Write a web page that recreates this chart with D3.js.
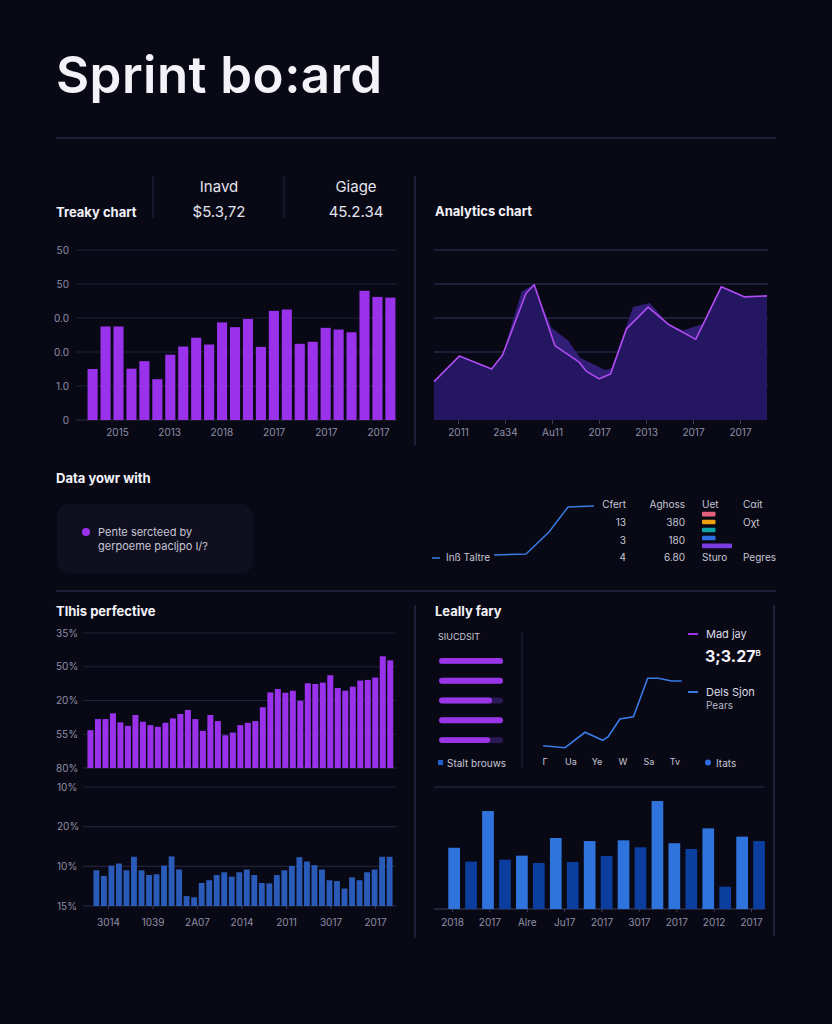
<!DOCTYPE html>
<html><head><meta charset="utf-8">
<script src="https://cdn.jsdelivr.net/npm/d3@7"></script>
<style>
html,body{margin:0;padding:0;background:#090915;}
svg{display:block;}
</style></head><body>
<script>
// ---------------- DATA ----------------
const headerLabels = ["Inavd", "Giage"];
const headerValues = ["$5.3,72", "45.2.34"];

// Treaky chart (top-left bars)
const weeklyValues = [15.0,27.5,27.5,15.1,17.3,12.0,19.2,21.6,24.2,22.2,28.7,27.3,29.7,21.5,32.1,32.5,22.4,23.0,27.1,26.6,25.8,38.0,36.2,36.0];
const weeklyYTicks = ["0","1.0","0.0","0.0","50","50"];
const weeklyXLabels = ["2015","2013","2018","2017","2017","2017"];

// Analytics chart (top-right area)
const analyticsT = [0,7.6,17.3,20.6,27.6,30.1,36.3,43.6,45.8,49.6,53,57.8,64.3,70.6,78.6,86.3,93.3,100];
const analyticsMain = [11.3,18.8,15.0,19.1,37.2,39.8,21.9,17.0,14.3,12.1,13.5,26.8,33.2,28.0,23.7,39.2,36.2,36.5];
const analyticsShadowT = [0,7.6,17.3,20.6,26.3,29.8,35.3,40.3,43.8,51.3,53.3,59.8,64.8,70.6,74.8,80.8,86.3,93.3,100];
const analyticsShadow = [11.3,18.8,15.0,19.1,37.7,39.8,27.1,23.4,18.4,14.7,15.2,33.2,34.4,28.0,26.3,28.3,39.2,36.2,36.5];
const analyticsXLabels = ["2011","2a34","Au11","2017","2013","2017","2017"];

// Data yowr with
const noteLines = ["Pente sercteed by","gerpoeme pacljpo I/?"];
const trendT = [0,1.28,2.2,2.96,4];
const trendV = [8.3,10,46.7,88.3,90];
const trendLegend = "Inß Taltre";
const tableHeaders = ["Cfert","Aghoss","Uet","Cαit"];
const tableColA = ["13","3","4"];
const tableColB = ["380","180","6.80"];
const tableColC = ["","","Sturo"];
const tableColD = ["Oχt","","Pegres"];
const swatchShares = [45,45,45,45,100];
const swatchColors = ["#e8607c","#f0a010","#12a4a8","#2f6ee0","#7b3ce0"];

// Tlhis perfective (purple bars)
const perfValues = [11.2,14.5,14.5,16.2,13.5,12.5,15.7,13.7,12.7,12.2,13.4,14.7,16.0,17.2,14.5,11.0,15.7,13.9,9.7,10.5,12.7,13.4,13.9,18.0,22.4,23.4,22.3,22.9,19.9,25.1,24.9,25.3,27.5,23.7,22.9,24.1,25.9,26.1,26.8,33.1,31.9];
const perfTicks = ["80%","55%","20%","50%","35%"];

// blue bars below
const shareValues = [9.0,7.6,10.2,10.7,9.0,12.4,9.0,7.8,8.0,10.2,12.5,9.2,2.5,2.2,5.8,6.5,7.8,8.5,7.4,8.5,9.2,7.8,5.8,5.7,7.8,9.0,10.1,12.3,11.2,10.3,9.2,6.5,6.3,4.4,7.2,6.5,8.5,9.2,12.4,12.4];
const shareTicks = ["15%","10%","20%","10%"];
const shareXLabels = ["3014","1039","2A07","2014","2011","3017","2017"];

// Leally fary
const progressValues = [100,100,83,100,80];
const lineT = [-0.07,0.77,1.54,2.22,2.43,2.88,3.4,3.95,4.36,4.87,5.26];
const lineV = [14.3,12.3,27.7,19.7,23.3,41,43.3,81.7,81.7,79,79];
const lineXLabels = ["Γ","Ua","Ye","W","Sa","Tv"];
const groupValues = [50.2,38.8,80.3,40.4,43.7,37.7,58.2,38.5,55.7,43.4,56.3,50.6,88.5,53.9,49.2,66.1,18.3,59.3,55.7];
const groupTone = [0,1,0,1,0,1,0,1,0,1,0,1,0,0,1,0,1,0,1];
const groupXLabels = ["2018","2017","Alre","Ju17","2017","3017","2017","2012","2017"];

// ---------------- STYLE ----------------
const FONT = "Inter, 'Noto Sans', 'DejaVu Sans', sans-serif";
const BG = "#090915", GRID = "#21213a", AXIS = "#2c2c4a", TICK = "#8f8fa8",
      WHITE = "#f2f2f8", SOFT = "#c6c6d4", PURPLE = "#9a32ec", BLUE = "#2a5bb8";

const svg = d3.select("body").append("svg").attr("width",832).attr("height",1024)
  .style("font-family", FONT);
svg.append("rect").attr("width",832).attr("height",1024).attr("fill",BG);

function text(x,y,t,o={}){
  return svg.append("text").attr("x",x).attr("y",y).text(t)
    .attr("fill",o.fill||WHITE).attr("font-size",o.size||10)
    .attr("font-weight",o.weight||400).attr("text-anchor",o.anchor||"start");
}
function line(x1,y1,x2,y2,c,w){
  return svg.append("line").attr("x1",x1).attr("y1",y1).attr("x2",x2).attr("y2",y2)
    .attr("stroke",c).attr("stroke-width",w||1);
}
function styleAxis(ax){
  ax.attr("font-family",FONT).attr("font-size",10);
  ax.select(".domain").remove();
  ax.selectAll("text").attr("fill",TICK);
  ax.selectAll(".tick line").attr("stroke","#3a3a58");
}

// ---------------- TITLE / HEADER ----------------
text(56,93,"Sprint bo:ard",{size:51,weight:600})
  .attr("textLength",326).attr("lengthAdjust","spacing");
line(56,138,776,138,"#26264a",1.5);

line(153,176,153,218,"#262642",1);
line(284,176,284,218,"#262642",1);
line(415,176,415,445,"#262642",1.5);
text(56,217,"Treaky chart",{size:13,weight:700});
const hx = d3.scalePoint().domain(headerLabels).range([219,356]);
headerLabels.forEach((h,i)=>{
  text(hx(h),192,h,{size:15,anchor:"middle",fill:"#e4e4ee"});
  text(hx(h),217,headerValues[i],{size:15,anchor:"middle",fill:"#e4e4ee"});
});
text(435,216,"Analytics chart",{size:13,weight:700});

// ---------------- TREAKY CHART ----------------
{
  const x = d3.scaleBand().domain(weeklyValues.map((_,i)=>i)).range([86,397]).paddingInner(0.22).paddingOuter(0.12);
  const y = d3.scaleLinear().domain([0,50]).range([420,250]);
  const g = svg.append("g");
  g.selectAll("line.grid").data(y.ticks(5)).join("line").attr("class","grid")
    .attr("x1",76).attr("x2",397).attr("y1",d=>y(d)).attr("y2",d=>y(d))
    .attr("stroke",d=>d===0?AXIS:GRID).attr("stroke-width",1.2);
  g.selectAll("text.yl").data(y.ticks(5)).join("text").attr("class","yl")
    .attr("x",69).attr("y",d=>y(d)).attr("dy","0.35em").attr("text-anchor","end")
    .attr("fill",TICK).attr("font-size",10).text((d,i)=>weeklyYTicks[i]);
  g.selectAll("rect").data(weeklyValues).join("rect")
    .attr("x",(d,i)=>x(i)).attr("y",d=>y(d)).attr("width",x.bandwidth())
    .attr("height",d=>y(0)-y(d)).attr("fill",PURPLE);
  const xl = d3.scalePoint().domain(weeklyXLabels.map((_,i)=>i)).range([117,378]);
  const ax = svg.append("g").attr("transform","translate(0,420)")
    .call(d3.axisBottom(xl).tickSize(0).tickPadding(9).tickFormat(i=>weeklyXLabels[i]));
  styleAxis(ax);
}

// ---------------- ANALYTICS CHART ----------------
{
  const x = d3.scaleLinear().domain([0,100]).range([434,767]);
  const y = d3.scaleLinear().domain([0,50]).range([420,250]);
  const g = svg.append("g");
  g.selectAll("line").data(y.ticks(5).filter(d=>d>0)).join("line")
    .attr("x1",434).attr("x2",768).attr("y1",d=>y(d)).attr("y2",d=>y(d))
    .attr("stroke","#262645").attr("stroke-width",1.5);
  const shadow = analyticsShadowT.map((t,i)=>[t,analyticsShadow[i]]);
  const main = analyticsT.map((t,i)=>[t,analyticsMain[i]]);
  const area = d3.area().x(d=>x(d[0])).y0(y(0)).y1(d=>y(d[1]));
  g.append("path").datum(shadow).attr("d",area).attr("fill","#34207c").attr("opacity",0.95);
  g.append("path").datum(main).attr("d",area).attr("fill","#251660").attr("opacity",0.93);
  g.append("path").datum(main).attr("d",d3.line().x(d=>x(d[0])).y(d=>y(d[1])))
    .attr("fill","none").attr("stroke","#b04cf2").attr("stroke-width",1.6).attr("stroke-linejoin","round");
  const xl = d3.scalePoint().domain(analyticsXLabels.map((_,i)=>i)).range([458,740]);
  const ax = svg.append("g").attr("transform","translate(0,420)")
    .call(d3.axisBottom(xl).tickSize(4).tickPadding(5).tickFormat(i=>analyticsXLabels[i]));
  styleAxis(ax);
}

// ---------------- DATA YOWR WITH ----------------
text(56,483,"Data yowr with",{size:13,weight:700});
svg.append("rect").attr("x",57).attr("y",504).attr("width",196).attr("height",69).attr("rx",12).attr("fill","#0f0f20");
svg.append("circle").attr("cx",86).attr("cy",532).attr("r",4).attr("fill",PURPLE);
noteLines.forEach((t,i)=>text(98,536+i*14,t,{size:11,fill:SOFT}));

{
  const x = d3.scaleLinear().domain([0,4]).range([494,594]);
  const y = d3.scaleLinear().domain([0,100]).range([560,500]);
  svg.append("path").datum(trendT.map((t,i)=>[t,trendV[i]]))
    .attr("d",d3.line().x(d=>x(d[0])).y(d=>y(d[1])))
    .attr("fill","none").attr("stroke","#3a7ae4").attr("stroke-width",1.5);
  line(432,558,440,558,"#3a7ae4",1.5);
  text(446,561,trendLegend,{size:10,fill:SOFT});

  text(626,508,tableHeaders[0],{size:10,anchor:"end",fill:SOFT});
  text(685,508,tableHeaders[1],{size:10,anchor:"end",fill:SOFT});
  text(702,508,tableHeaders[2],{size:10,fill:SOFT});
  text(743,508,tableHeaders[3],{size:10,fill:SOFT});
  const rowY = d3.scalePoint().domain(tableColA.map((_,i)=>i)).range([526,561]);
  tableColA.forEach((v,i)=>{
    text(626,rowY(i),v,{size:10,anchor:"end",fill:SOFT});
    text(685,rowY(i),tableColB[i],{size:10,anchor:"end",fill:SOFT});
    if(tableColC[i]) text(702,rowY(i),tableColC[i],{size:10,fill:SOFT});
    if(tableColD[i]) text(743,rowY(i),tableColD[i],{size:10,fill:SOFT});
  });
  const sy = d3.scaleBand().domain(swatchShares.map((_,i)=>i)).range([511,549]).paddingInner(0.42).paddingOuter(0.1);
  const sw = d3.scaleLinear().domain([0,100]).range([0,30]);
  svg.selectAll("rect.sw").data(swatchShares).join("rect").attr("class","sw")
    .attr("x",702).attr("y",(d,i)=>sy(i)).attr("width",d=>sw(d)).attr("height",sy.bandwidth())
    .attr("rx",1).attr("fill",(d,i)=>swatchColors[i]);
}

line(56,591,776,591,"#26264a",1.5);

// ---------------- TLHIS PERFECTIVE ----------------
text(56,616,"Tlhis perfective",{size:13,weight:700});
{
  const x = d3.scaleBand().domain(perfValues.map((_,i)=>i)).range([86.7,394]).paddingInner(0.2).paddingOuter(0.1);
  const y = d3.scaleLinear().domain([0,40]).range([768,633]);
  const g = svg.append("g");
  g.selectAll("line").data(y.ticks(4)).join("line")
    .attr("x1",83).attr("x2",396).attr("y1",d=>y(d)).attr("y2",d=>y(d))
    .attr("stroke",d=>d===0?AXIS:GRID).attr("stroke-width",1.2);
  g.selectAll("text").data(y.ticks(4)).join("text")
    .attr("x",56).attr("y",d=>y(d)).attr("dy","0.35em")
    .attr("fill",TICK).attr("font-size",10).text((d,i)=>perfTicks[i]);
  g.selectAll("rect").data(perfValues).join("rect")
    .attr("x",(d,i)=>x(i)).attr("y",d=>y(d)).attr("width",x.bandwidth())
    .attr("height",d=>y(0)-y(d)).attr("fill",PURPLE);
}
{
  const x = d3.scaleBand().domain(shareValues.map((_,i)=>i)).range([92.7,393.3]).paddingInner(0.22).paddingOuter(0.1);
  const y = d3.scaleLinear().domain([0,30]).range([906,787]);
  const g = svg.append("g");
  g.selectAll("line").data(y.ticks(3)).join("line")
    .attr("x1",83).attr("x2",396).attr("y1",d=>y(d)).attr("y2",d=>y(d))
    .attr("stroke",d=>d===0?AXIS:GRID).attr("stroke-width",1.2);
  g.selectAll("text").data(y.ticks(3)).join("text")
    .attr("x",57).attr("y",d=>y(d)).attr("dy","0.35em")
    .attr("fill",TICK).attr("font-size",10).text((d,i)=>shareTicks[i]);
  g.selectAll("rect").data(shareValues).join("rect")
    .attr("x",(d,i)=>x(i)).attr("y",d=>y(d)).attr("width",x.bandwidth())
    .attr("height",d=>y(0)-y(d)).attr("fill",BLUE);
  const xl = d3.scalePoint().domain(shareXLabels.map((_,i)=>i)).range([108,375]);
  const ax = svg.append("g").attr("transform","translate(0,906)")
    .call(d3.axisBottom(xl).tickSize(3).tickPadding(10).tickFormat(i=>shareXLabels[i]));
  styleAxis(ax);
}

// ---------------- LEALLY FARY ----------------
line(415,605,415,938,"#262642",1.5);
line(774,605,774,936,"#262642",1.5);
text(435,616,"Leally fary",{size:13,weight:700});
text(438,640,"SIUCDSIT",{size:9,fill:SOFT});
line(522,632,522,768,GRID,1.2);
{
  const y = d3.scaleBand().domain(progressValues.map((_,i)=>i)).range([651,750]).paddingInner(0.7).paddingOuter(0.35);
  const x = d3.scaleLinear().domain([0,100]).range([439,503]);
  svg.selectAll("rect.track").data(progressValues).join("rect").attr("class","track")
    .attr("x",x(0)).attr("y",(d,i)=>y(i)).attr("width",x(100)-x(0)).attr("height",y.bandwidth())
    .attr("rx",y.bandwidth()/2).attr("fill","#2a1a58");
  svg.selectAll("rect.prog").data(progressValues).join("rect").attr("class","prog")
    .attr("x",x(0)).attr("y",(d,i)=>y(i)).attr("width",d=>x(d)-x(0)).attr("height",y.bandwidth())
    .attr("rx",y.bandwidth()/2).attr("fill","#9a35e8");
  svg.append("rect").attr("x",438).attr("y",760).attr("width",5).attr("height",5).attr("fill","#1f5fd0");
  text(447,767,"Stalt brouws",{size:10,fill:SOFT});
}
{
  const x = d3.scaleLinear().domain([0,5]).range([545,675]);
  const y = d3.scaleLinear().domain([0,100]).range([760,660]);
  svg.append("path").datum(lineT.map((t,i)=>[t,lineV[i]]))
    .attr("d",d3.line().x(d=>x(d[0])).y(d=>y(d[1])))
    .attr("fill","none").attr("stroke","#3a7ae8").attr("stroke-width",1.6);
  lineXLabels.forEach((l,i)=>text(x(i),765,l,{size:9,anchor:"middle",fill:SOFT}));
  line(688,634,698,634,PURPLE,2);
  text(706,638,"Mad jay",{size:11,fill:"#dcdce8"});
  const big = text(705,662,"3;3.27",{size:16,weight:700});
  big.append("tspan").attr("dy",-6).attr("font-size",8).attr("font-weight",600).text("B");
  line(688,692,698,692,"#3a7ae8",2);
  text(706,696,"Dels Sjon",{size:11,fill:"#dcdce8"});
  text(706,709,"Pears",{size:10,fill:"#b8b8c8"});
  svg.append("circle").attr("cx",708).attr("cy",762.5).attr("r",3).attr("fill","#2f6ee0");
  text(716,767,"Itats",{size:10,fill:SOFT});
}
{
  const x = d3.scaleBand().domain(groupValues.map((_,i)=>i)).range([443.2,770]).paddingInner(0.31).paddingOuter(0.3);
  const y = d3.scaleLinear().domain([0,100]).range([909,787]);
  line(434,787,764,787,GRID,1.5);
  line(434,909,765,909,AXIS,1.5);
  svg.selectAll("rect.grp").data(groupValues).join("rect").attr("class","grp")
    .attr("x",(d,i)=>x(i)).attr("y",d=>y(d)).attr("width",x.bandwidth())
    .attr("height",d=>y(0)-y(d)).attr("fill",(d,i)=>groupTone[i]?"#0b3e9e":"#2e74dc");
  const xl = d3.scalePoint().domain(groupXLabels.map((_,i)=>i)).range([452,751]);
  const ax = svg.append("g").attr("transform","translate(0,909)")
    .call(d3.axisBottom(xl).tickSize(3).tickPadding(7).tickFormat(i=>groupXLabels[i]));
  styleAxis(ax);
}
</script>
</body></html>
